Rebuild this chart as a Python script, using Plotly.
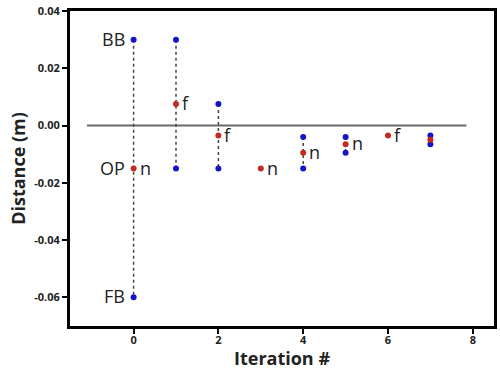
import plotly.graph_objects as go

# Data
iterations = [0, 1, 2, 3, 4, 5, 6, 7]
blue_upper = [0.03, 0.03, 0.0075, None, -0.004, -0.004, None, -0.0035]
blue_lower = [-0.06, -0.015, -0.015, None, -0.015, -0.0095, None, -0.0065]
red_values = [-0.015, 0.0075, -0.0035, -0.015, -0.0095, -0.0065, -0.0035, -0.005]
red_labels = ["n", "f", "f", "n", "n", "n", "f", ""]
side_labels = [("BB", 0, 0.03), ("OP", 0, -0.015), ("FB", 0, -0.06)]
x_ticks = [0, 2, 4, 6, 8]
y_ticks = [0.04, 0.02, 0.00, -0.02, -0.04, -0.06]

FONT = "Open Sans"
BLUE = "#1515c8"
RED = "#c42a22"
INK = "#222222"

fig = go.Figure()

# dotted vertical connectors
lx, ly = [], []
for x, u, l in zip(iterations, blue_upper, blue_lower):
    if u is None:
        continue
    lx += [x, x, None]
    ly += [u, l, None]
fig.add_trace(go.Scatter(x=lx, y=ly, mode="lines",
                         line=dict(color="#444444", width=1.5, dash="dot"),
                         hoverinfo="skip", showlegend=False))

# blue points
bx, by = [], []
for x, u, l in zip(iterations, blue_upper, blue_lower):
    if u is None:
        continue
    bx += [x, x]
    by += [u, l]
fig.add_trace(go.Scatter(x=bx, y=by, mode="markers",
                         marker=dict(color=BLUE, size=6), showlegend=False))

# red points
fig.add_trace(go.Scatter(x=iterations, y=red_values, mode="markers",
                         marker=dict(color=RED, size=6), showlegend=False))

# zero line
fig.add_shape(type="line", x0=-1.1, x1=7.85, y0=0, y1=0,
              line=dict(color="#6a6a6a", width=2), layer="below")

# n / f labels
for x, y, t in zip(iterations, red_values, red_labels):
    if t:
        fig.add_annotation(x=x, y=y, text=t, showarrow=False, xanchor="left",
                           xshift=4, yshift=1,
                           font=dict(family=FONT, size=18, color=INK))

for t, x, y in side_labels:
    fig.add_annotation(x=x, y=y, text=t, showarrow=False, xanchor="right",
                       xshift=-7, yshift=1,
                       font=dict(family=FONT, size=18, color=INK))

axis_common = dict(
    ticks="outside", ticklen=5, tickwidth=2, tickcolor="black",
    showline=True, linewidth=3, linecolor="black", mirror=True,
    showgrid=False, zeroline=False,
    tickfont=dict(family=FONT, size=11, color=INK, weight="bold"),
)

fig.update_layout(
    width=500, height=370,
    margin=dict(l=70, r=3, t=9, b=44),
    paper_bgcolor="white", plot_bgcolor="white",
    font=dict(family=FONT, color="#111111"),
    xaxis=dict(range=[-1.5, 8.5], tickvals=x_ticks, ticktext=[str(v) for v in x_ticks],
               ticklabelstandoff=-3,
               title=dict(text="Iteration #", standoff=2,
                          font=dict(family=FONT, size=18, color=INK, weight="bold")),
               **axis_common),
    yaxis=dict(range=[-0.07, 0.04], tickvals=y_ticks,
               ticktext=[f"{v:.2f}" for v in y_ticks],
               title=dict(text="Distance (m)", standoff=4,
                          font=dict(family=FONT, size=18, color=INK, weight="bold")),
               **axis_common),
)

fig.write_html("out.html", config={"displayModeBar": False},
               post_script="document.body.style.margin='0';")
